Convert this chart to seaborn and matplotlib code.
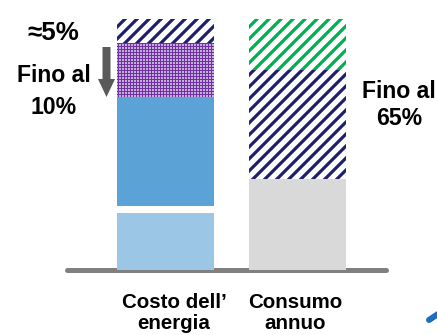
import seaborn as sns
import matplotlib.pyplot as plt
import matplotlib as mpl
from matplotlib.patches import FancyArrow
from matplotlib.lines import Line2D

# data (share of bar height)
categories = ["Costo dell’\nenergia", "Consumo\nannuo"]
cost_segments = ["base", "gap", "energia", "extra", "quota"]
cost_values = [22.7, 2.8, 43.4, 21.5, 9.6]
cons_segments = ["base", "quota", "risparmio"]
cons_values = [36.3, 43.4, 20.3]

navy = "#1f1f6e"
purple = "#7030a0"
cost_styles = {
    "base": dict(color="#9bc6e6"),
    "gap": dict(color="white"),
    "energia": dict(color="#5ba3d6"),
    "extra": dict(color="#dccdec", edgecolor=purple, hatch="++++", hlw=1.2),
    "quota": dict(color="white", edgecolor=navy, hatch="//", hlw=3.2),
}
cons_styles = {
    "base": dict(color="#d9d9d9"),
    "quota": dict(color="white", edgecolor=navy, hatch="//", hlw=3.2),
    "risparmio": dict(color="white", edgecolor="#00b050", hatch="//", hlw=3.2),
}

sns.set_style("white")
plt.rcParams['font.family'] = ['Liberation Sans', 'DejaVu Sans']

fig = plt.figure(figsize=(437 / 72, 335 / 72), dpi=72)
ax = fig.add_axes([0, 0, 1, 1])


def stack(cat, segs, vals, styles):
    bottom = 0
    for s, v in zip(segs, vals):
        st = dict(styles[s])
        hlw = st.pop("hlw", 1.0)
        with plt.rc_context({'hatch.linewidth': hlw}):
            sns.barplot(x=[cat], y=[v], order=categories, bottom=bottom,
                        width=0.74, saturation=1, errorbar=None, linewidth=0,
                        ax=ax, zorder=2, **st)
            for p in ax.patches[-1:]:
                if hasattr(p, "set_hatch_linewidth"):
                    p.set_hatch_linewidth(hlw)
        bottom += v


stack(categories[0], cost_segments, cost_values, cost_styles)
stack(categories[1], cons_segments, cons_values, cons_styles)

ax.set_xlim(-165.5 / 132, (437 - 165.5) / 132)
ax.set_ylim(-(335 - 270) / 2.51, 270 / 2.51)
ax.axhline(0, xmin=67 / 437, xmax=386 / 437, color="#808080", lw=5, zorder=1)
ax.axis("off")

W, H = 437, 335
tk = dict(fontweight="bold", ha="center", va="center", color="black")
fig.text(53 / W, 1 - 33 / H, "≈5%", fontsize=26, **tk)
fig.text(54 / W, 1 - 91 / H, "Fino al\n10%", fontsize=23, linespacing=1.5, **tk)
fig.text(399 / W, 1 - 105 / H, "Fino al\n65%", fontsize=23, linespacing=1.25, **tk)
for i, lab in enumerate(categories):
    xc = [174, 295][i]
    fig.text(xc / W, 1 - 313 / H, lab, fontsize=20.5, linespacing=1.15, **tk)

# grey arrow next to the cost bar
fig.add_artist(FancyArrow(106.5, H - 47, 0, -50, width=8, head_width=17,
                          head_length=18, length_includes_head=True,
                          color="#5a5a5a", lw=0,
                          transform=mpl.transforms.IdentityTransform()))
# cut-off blue mark in the corner
fig.add_artist(Line2D([429, 438], [H - 320, H - 314], color="#1a6fc4", lw=6,
                      transform=mpl.transforms.IdentityTransform()))

fig.savefig("out.png", dpi=72)
